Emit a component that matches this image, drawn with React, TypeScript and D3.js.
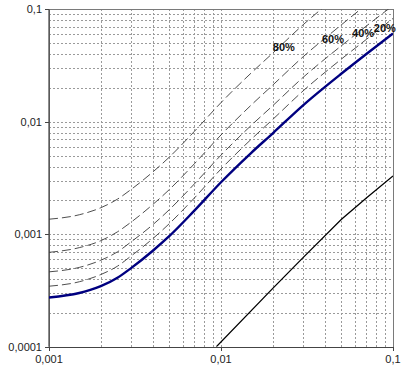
import * as d3 from 'd3';
import React, { useRef, useEffect } from 'react';

// x values shared by the curves
const xs = [0.001, 0.0015, 0.002, 0.0025, 0.003, 0.004, 0.005, 0.007, 0.01, 0.015, 0.02, 0.03, 0.05, 0.07, 0.1];

// solid blue curve
const mainCurve = [0.000274, 0.0003, 0.000345, 0.00041, 0.0005, 0.00071, 0.00096, 0.00162, 0.0029, 0.0053, 0.0079, 0.014, 0.0267, 0.04, 0.061];

// dashed percentile curves
const p20 = [0.000345, 0.000378, 0.000438, 0.00052, 0.00064, 0.00091, 0.00124, 0.0021, 0.0038, 0.007, 0.0105, 0.0188, 0.036, 0.054, 0.083];
const p40 = [0.000463, 0.000507, 0.000587, 0.000697, 0.000855, 0.00121, 0.00165, 0.0028, 0.00505, 0.0093, 0.0139, 0.0248, 0.0473, 0.071, 0.108];
const p60 = [0.00069, 0.00076, 0.000876, 0.00105, 0.00128, 0.00183, 0.00249, 0.00423, 0.00763, 0.0141, 0.0212, 0.0378, 0.0726, 0.11, 0.168];
const p80 = [0.00136, 0.00149, 0.00172, 0.00205, 0.0025, 0.00356, 0.00484, 0.00821, 0.0148, 0.0272, 0.0408, 0.0728, 0.14, 0.21, 0.32];

// solid black line
const blackX = [0.0094, 0.02, 0.03, 0.05, 0.07, 0.1];
const blackY = [0.0001, 0.00033, 0.00062, 0.00135, 0.0021, 0.0033];

const labelNames = ['80%', '60%', '40%', '20%'];
const labelX = [0.0232, 0.0448, 0.067, 0.0897];
const labelY = [0.0426, 0.05, 0.0568, 0.0628];

const xTicks = [0.001, 0.01, 0.1];
const xTickLabels = ['0,001', '0,01', '0,1'];
const yTicks = [0.0001, 0.001, 0.01, 0.1];
const yTickLabels = ['0,0001', '0,001', '0,01', '0,1'];

const W = 405;
const H = 375;

export default function App() {
    const ref = useRef<SVGSVGElement | null>(null);

    useEffect(() => {
        const svg = d3.select(ref.current);
        svg.selectAll('*').remove();

        const left = 49, right = 393, top = 9.3, bottom = 346.7;
        const x = d3.scaleLog().domain([0.001, 0.1]).range([left, right]);
        const y = d3.scaleLog().domain([0.0001, 0.1]).range([bottom, top]);

        svg.append('rect').attr('width', W).attr('height', H).attr('fill', '#fff');

        svg.append('clipPath').attr('id', 'plot')
            .append('rect')
            .attr('x', left).attr('y', top)
            .attr('width', right - left).attr('height', bottom - top);

        // grid
        const grid = svg.append('g')
            .attr('stroke', '#9a9a9a')
            .attr('stroke-width', 1)
            .attr('stroke-dasharray', '2,2')
            .attr('shape-rendering', 'crispEdges');

        grid.selectAll('line.gx')
            .data(x.ticks().filter((t) => t > 0.001 && t < 0.1))
            .join('line')
            .attr('class', 'gx')
            .attr('x1', (d) => Math.round(x(d)) + 0.5)
            .attr('x2', (d) => Math.round(x(d)) + 0.5)
            .attr('y1', top)
            .attr('y2', bottom);

        grid.selectAll('line.gy')
            .data(y.ticks().filter((t) => t > 0.0001 && t < 0.1))
            .join('line')
            .attr('class', 'gy')
            .attr('x1', left)
            .attr('x2', right)
            .attr('y1', (d) => Math.round(y(d)) + 0.5)
            .attr('y2', (d) => Math.round(y(d)) + 0.5);

        // border
        svg.append('rect')
            .attr('x', left).attr('y', Math.round(top) + 0.5)
            .attr('width', right - left).attr('height', Math.round(bottom) - Math.round(top))
            .attr('fill', 'none')
            .attr('stroke', '#7a7a7a')
            .attr('shape-rendering', 'crispEdges');

        // left + bottom axes
        svg.append('line')
            .attr('x1', left).attr('x2', left)
            .attr('y1', top).attr('y2', bottom)
            .attr('stroke', '#444').attr('stroke-width', 1.2);
        svg.append('line')
            .attr('x1', left).attr('x2', right)
            .attr('y1', Math.round(bottom) + 0.5).attr('y2', Math.round(bottom) + 0.5)
            .attr('stroke', '#444');

        const plot = svg.append('g').attr('clip-path', 'url(#plot)');

        const line = d3.line<[number, number]>()
            .x((d) => x(d[0]))
            .y((d) => y(d[1]))
            .curve(d3.curveMonotoneX);

        [p80, p60, p40, p20].forEach((s) => {
            plot.append('path')
                .attr('d', line(xs.map((v, i) => [v, s[i]] as [number, number])))
                .attr('fill', 'none')
                .attr('stroke', '#3a3a3a')
                .attr('stroke-width', 0.9)
                .attr('stroke-dasharray', '9,4');
        });

        plot.append('path')
            .attr('d', line(xs.map((v, i) => [v, mainCurve[i]] as [number, number])))
            .attr('fill', 'none')
            .attr('stroke', '#000080')
            .attr('stroke-width', 2.4);

        plot.append('path')
            .attr('d', d3.line<[number, number]>()
                .x((d) => x(d[0]))
                .y((d) => y(d[1]))(blackX.map((v, i) => [v, blackY[i]] as [number, number])))
            .attr('fill', 'none')
            .attr('stroke', '#000')
            .attr('stroke-width', 1.3);

        // percent labels
        svg.selectAll('text.pl')
            .data(labelNames)
            .join('text')
            .attr('class', 'pl')
            .attr('x', (_, i) => x(labelX[i]))
            .attr('y', (_, i) => y(labelY[i]))
            .attr('text-anchor', 'middle')
            .attr('font-family', 'Liberation Sans, Arial, sans-serif')
            .attr('font-weight', 'bold')
            .attr('font-size', 11)
            .attr('fill', '#111')
            .text((d) => d);

        // ticks
        const tickG = svg.append('g').attr('stroke', '#444').attr('shape-rendering', 'crispEdges');
        tickG.selectAll('line.ty')
            .data(yTicks)
            .join('line')
            .attr('class', 'ty')
            .attr('x1', left - 4).attr('x2', left)
            .attr('y1', (d) => Math.round(y(d)) + 0.5)
            .attr('y2', (d) => Math.round(y(d)) + 0.5);
        tickG.selectAll('line.tx')
            .data(xTicks)
            .join('line')
            .attr('class', 'tx')
            .attr('x1', (d) => Math.round(x(d)) + 0.5)
            .attr('x2', (d) => Math.round(x(d)) + 0.5)
            .attr('y1', bottom).attr('y2', bottom + 4);

        svg.selectAll('text.yl')
            .data(yTicks)
            .join('text')
            .attr('class', 'yl')
            .attr('x', left - 7)
            .attr('y', (d) => y(d) + 4)
            .attr('text-anchor', 'end')
            .attr('font-family', 'Liberation Sans, Arial, sans-serif')
            .attr('font-size', 11)
            .attr('fill', '#222')
            .text((_, i) => yTickLabels[i]);

        svg.selectAll('text.xl')
            .data(xTicks)
            .join('text')
            .attr('class', 'xl')
            .attr('x', (d) => x(d))
            .attr('y', bottom + 16)
            .attr('text-anchor', 'middle')
            .attr('font-family', 'Liberation Sans, Arial, sans-serif')
            .attr('font-size', 11)
            .attr('fill', '#222')
            .text((_, i) => xTickLabels[i]);
    }, []);

    return (
        <svg
            ref={ref}
            width={W}
            height={H}
            style={{ position: 'absolute', left: 0, top: 0 }}
        />
    );
}
